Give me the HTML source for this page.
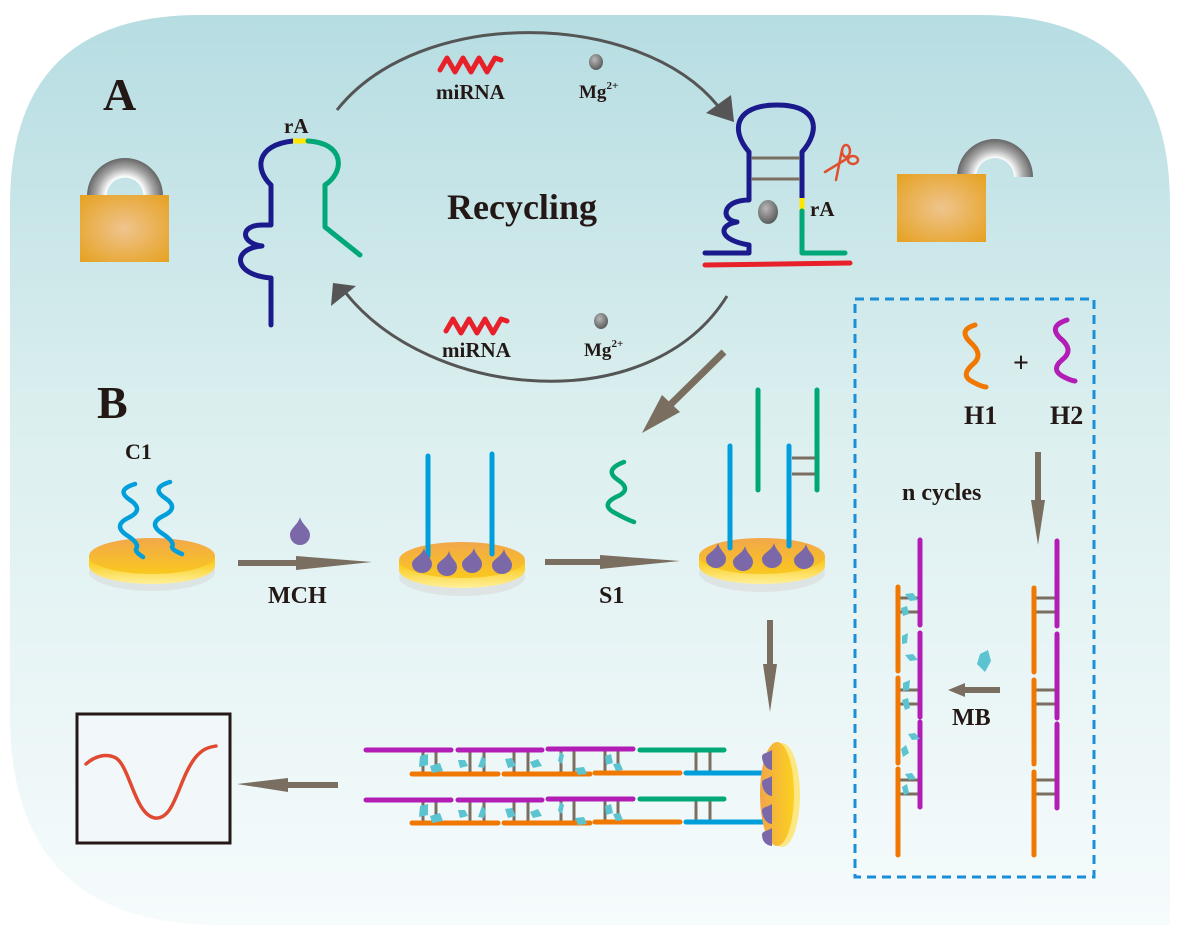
<!DOCTYPE html>
<html><head><meta charset="utf-8"><style>
html,body{margin:0;padding:0;background:#fff}
svg{display:block}
text{font-family:"Liberation Serif",serif;font-weight:bold;fill:#231815}
</style></head><body>
<svg width="1180" height="932" viewBox="0 0 1180 932" xmlns="http://www.w3.org/2000/svg">
<defs>
<linearGradient id="bg" x1="0" y1="0" x2="0" y2="1">
<stop offset="0" stop-color="#b6dde2"/><stop offset="0.45" stop-color="#dcefef"/><stop offset="1" stop-color="#f6fbfc"/>
</linearGradient>
<radialGradient id="lockb" cx="0.5" cy="0.5" r="0.7"><stop offset="0" stop-color="#efc48e"/><stop offset="1" stop-color="#e6a11f"/></radialGradient>
<radialGradient id="shk" gradientUnits="userSpaceOnUse" cx="0" cy="0" r="38"><stop offset="0.5" stop-color="#ffffff"/><stop offset="0.75" stop-color="#a8a8a8"/><stop offset="1" stop-color="#666"/></radialGradient>
<radialGradient id="ball" cx="0.4" cy="0.35" r="0.7"><stop offset="0" stop-color="#b8b8b8"/><stop offset="1" stop-color="#555"/></radialGradient>
<linearGradient id="discTop" x1="0" y1="0" x2="0" y2="1"><stop offset="0" stop-color="#f2a74a"/><stop offset="1" stop-color="#f9c81f"/></linearGradient>
<linearGradient id="discSide" x1="0" y1="0" x2="0" y2="1"><stop offset="0" stop-color="#f9c300"/><stop offset="1" stop-color="#fff09a"/></linearGradient>
<linearGradient id="discV" x1="0" y1="0" x2="1" y2="0"><stop offset="0" stop-color="#f2a64a"/><stop offset="1" stop-color="#fbd11f"/></linearGradient>
</defs>
<path d="M200,15 H980 Q1170,15 1170,205 V925 H220 Q10,925 10,715 V205 Q10,15 200,15 Z" fill="url(#bg)"/>

<text x="103" y="110" font-size="46">A</text>
<text x="97" y="418" font-size="46">B</text>

<!-- closed lock -->
<g transform="translate(125,196)">
<path d="M-38,0 A38,38 0 0 1 38,0 L18.5,0 A18.5,18.5 0 0 0 -18.5,0 Z" fill="url(#shk)"/>
</g>
<rect x="80" y="195" width="89" height="67" fill="url(#lockb)"/>

<!-- left hairpin -->
<path d="M271,325 V278 C232,275 232,248 262,246 C240,243 240,225 262,225 H271 V185 C255,170 255,145 293,141" fill="none" stroke="#1a1a8c" stroke-width="5" stroke-linecap="round" stroke-linejoin="round"/>
<path d="M293,141 H308" stroke="#ffe600" stroke-width="5"/>
<path d="M308,141 C345,143 345,172 325,185 V227 L360,255" fill="none" stroke="#00a877" stroke-width="5" stroke-linecap="round" stroke-linejoin="round"/>
<text x="284" y="133" font-size="21">rA</text>

<!-- arcs -->
<path d="M337,110 C420,5 640,10 718,106" fill="none" stroke="#555" stroke-width="3"/>
<polygon points="706,113 731,95 734,122" fill="#555"/>
<path d="M727,296 C650,420 430,400 345,292" fill="none" stroke="#555" stroke-width="3"/>
<polygon points="333,283 331,306 356,286" fill="#555"/>

<path d="M440,70 L447,58 L455,72 L463,58 L471,72 L479,58 L487,72 L495,58 L501,60" fill="none" stroke="#e8202a" stroke-width="5" stroke-linecap="round" stroke-linejoin="round"/>
<text x="436" y="99" font-size="21">miRNA</text>
<ellipse cx="596" cy="62" rx="7" ry="8" fill="url(#ball)"/>
<text x="579" y="98" font-size="19">Mg<tspan font-size="11" dy="-9">2+</tspan></text>

<path d="M446,331 L453,319 L461,333 L469,319 L477,333 L485,319 L493,333 L501,319 L507,321" fill="none" stroke="#e8202a" stroke-width="5" stroke-linecap="round" stroke-linejoin="round"/>
<text x="442" y="357" font-size="21">miRNA</text>
<ellipse cx="601" cy="321" rx="7" ry="8" fill="url(#ball)"/>
<text x="584" y="356" font-size="19">Mg<tspan font-size="11" dy="-9">2+</tspan></text>

<text x="447" y="219" font-size="36">Recycling</text>

<!-- right hairpin -->
<path d="M705,253 H749 V245 C718,240 718,225 737,222 C720,220 722,200 749,200 V152 C730,130 735,105 777,105 C820,105 820,132 802,152 V198" fill="none" stroke="#1a1a8c" stroke-width="5" stroke-linecap="round" stroke-linejoin="round"/>
<path d="M751,158 H800 M751,179 H800" stroke="#7a6e60" stroke-width="3"/>
<path d="M802,198 V211" stroke="#ffe600" stroke-width="5"/>
<path d="M802,211 V253 H845" fill="none" stroke="#00a877" stroke-width="5" stroke-linecap="round" stroke-linejoin="round"/>
<path d="M705,265 L850,263" stroke="#e8202a" stroke-width="5" stroke-linecap="round"/>
<ellipse cx="768" cy="212" rx="10" ry="12" fill="url(#ball)"/>
<text x="810" y="216" font-size="21">rA</text>
<g stroke="#e05030" stroke-width="2.5" fill="none" stroke-linecap="round">
<path d="M825,172 L848,158"/><path d="M836,180 L842,150"/>
<ellipse cx="846" cy="151" rx="4" ry="6"/><ellipse cx="853" cy="160" rx="5" ry="4"/>
</g>

<!-- open lock -->
<g transform="translate(995,177)">
<path d="M-38,0 A38,38 0 0 1 38,0 L19,0 A19,19 0 0 0 -19,0 Z" fill="url(#shk)"/>
</g>
<rect x="897" y="174" width="89" height="68" fill="url(#lockb)"/>

<!-- dashed box -->
<rect x="855" y="299" width="239" height="578" fill="none" stroke="#1a8fd8" stroke-width="3" stroke-dasharray="9,6"/>
<path d="M975,325 Q958,330 970,342 Q985,355 972,365 Q960,376 973,382 Q982,387 986,387" fill="none" stroke="#f07800" stroke-width="5" stroke-linecap="round"/>
<text x="964" y="424" font-size="26">H1</text>
<text x="1013" y="372" font-size="28">+</text>
<path d="M1067,320 Q1048,326 1060,338 Q1075,350 1062,360 Q1050,370 1064,377 Q1072,381 1075,381" fill="none" stroke="#b21db5" stroke-width="5" stroke-linecap="round"/>
<text x="1050" y="424" font-size="26">H2</text>
<path d="M1038,452 V505" stroke="#7a6e60" stroke-width="6"/>
<polygon points="1031,500 1045,500 1038,545" fill="#7a6e60"/>
<text x="902" y="500" font-size="24">n cycles</text>

<!-- ladders -->
<g stroke-linecap="round">
<g stroke="#7a6e60" stroke-width="3">
<path d="M1036,598 H1055 M1036,612 H1055 M1036,690 H1055 M1036,704 H1055 M1036,780 H1055 M1036,794 H1055"/>
<path d="M900,598 H920 M900,612 H920 M900,690 H920 M900,704 H920 M900,780 H920 M900,794 H920"/>
</g>
<g stroke="#f07800" stroke-width="5">
<path d="M1034,588 V672 M1034,680 V764 M1034,772 V855"/>
<path d="M898,587 V671 M898,678 V763 M898,769 V855"/>
</g>
<g stroke="#b21db5" stroke-width="5">
<path d="M1057,541 V626 M1057,634 V718 M1057,724 V808"/>
<path d="M920,540 V625 M920,633 V717 M920,722 V807"/>
</g>
</g>
<g fill="#5cc3d0">
<polygon points="905,594 913,593 918,600 910,601"/><polygon points="901,608 907,606 909,614 903,616"/>
<polygon points="902,636 908,633 907,643 902,644"/><polygon points="905,655 913,654 918,660 910,661"/>
<polygon points="903,683 910,680 909,690 903,691"/><polygon points="902,700 908,698 910,708 905,710"/>
<polygon points="908,734 915,733 920,739 912,740"/><polygon points="901,749 906,745 909,753 903,757"/>
<polygon points="905,774 912,773 916,779 909,780"/><polygon points="902,787 907,784 909,793 904,795"/>
<polygon points="980,654 988,650 991,661 985,672 977,664"/>
</g>
<path d="M1000,690 H962" stroke="#7a6e60" stroke-width="6"/>
<polygon points="965,683 965,697 948,690" fill="#7a6e60"/>
<text x="952" y="725" font-size="24">MB</text>

<!-- disc 1 -->
<g>
<ellipse cx="152" cy="572" rx="63" ry="19" fill="#d8dadb" opacity="0.6"/>
<path d="M89,556 V566 A63,18 0 0 0 215,566 V556 Z" fill="url(#discSide)"/>
<ellipse cx="152" cy="556" rx="63" ry="18" fill="url(#discTop)"/>
</g>
<g fill="none" stroke="#009fdb" stroke-width="4.5" stroke-linecap="round">
<path d="M135,484 Q115,490 130,500 Q145,510 128,518 Q112,526 128,536 Q140,544 136,549 Q135,552 143,557"/>
<path d="M170,482 Q150,488 165,498 Q180,508 163,516 Q147,524 163,534 Q175,542 172,547 Q172,550 182,554"/>
</g>
<text x="125" y="459" font-size="22">C1</text>
<path d="M238,563 H300" stroke="#7a6e60" stroke-width="6"/>
<polygon points="296,556 372,562 296,570" fill="#7a6e60"/>
<path d="M300,517 C298,525 290,528 290,535 A10,10 0 0 0 310,535 C310,528 302,525 300,517 Z" fill="#7b68a8"/>
<text x="268" y="603" font-size="24">MCH</text>

<!-- disc 2 -->
<g>
<ellipse cx="462" cy="577" rx="63" ry="19" fill="#d8dadb" opacity="0.6"/>
<path d="M399,560 V570 A63,18 0 0 0 525,570 V560 Z" fill="url(#discSide)"/>
<ellipse cx="462" cy="560" rx="63" ry="18" fill="url(#discTop)"/>
</g>
<path d="M428,456 V556 M492,454 V554" stroke="#009fdb" stroke-width="5" stroke-linecap="round"/>
<g fill="#7b68a8">
<path d="M424,548 C422,556 412,558 412,564 A10,9 0 0 0 432,564 C432,558 426,556 424,548Z"/>
<path d="M449,551 C447,559 437,561 437,567 A10,9 0 0 0 457,567 C457,561 451,559 449,551Z"/>
<path d="M474,548 C472,556 462,558 462,564 A10,9 0 0 0 482,564 C482,558 476,556 474,548Z"/>
<path d="M504,549 C502,557 492,559 492,565 A10,9 0 0 0 512,565 C512,559 506,557 504,549Z"/>
</g>
<path d="M545,562 H605" stroke="#7a6e60" stroke-width="6"/>
<polygon points="600,555 680,561 600,569" fill="#7a6e60"/>
<text x="599" y="603" font-size="24">S1</text>
<path d="M624,462 Q603,470 618,480 Q633,490 616,497 Q600,505 615,513 Q628,520 634,522" fill="none" stroke="#00a877" stroke-width="4.5" stroke-linecap="round"/>

<!-- disc 3 -->
<g>
<ellipse cx="762" cy="573" rx="63" ry="19" fill="#d8dadb" opacity="0.6"/>
<path d="M699,556 V566 A63,18 0 0 0 825,566 V556 Z" fill="url(#discSide)"/>
<ellipse cx="762" cy="556" rx="63" ry="18" fill="url(#discTop)"/>
</g>
<path d="M730,446 V548 M789,446 V546" stroke="#009fdb" stroke-width="5" stroke-linecap="round"/>
<path d="M758,390 V490 M817,390 V490" stroke="#00a877" stroke-width="5" stroke-linecap="round"/>
<path d="M792,458 H815 M792,474 H815" stroke="#7a6e60" stroke-width="3"/>
<g fill="#7b68a8">
<path d="M718,543 C716,551 706,553 706,559 A10,9 0 0 0 726,559 C726,553 720,551 718,543Z"/>
<path d="M745,546 C743,554 733,556 733,562 A10,9 0 0 0 753,562 C753,556 747,554 745,546Z"/>
<path d="M774,543 C772,551 762,553 762,559 A10,9 0 0 0 782,559 C782,553 776,551 774,543Z"/>
<path d="M806,544 C804,552 794,554 794,560 A10,9 0 0 0 814,560 C814,554 808,552 806,544Z"/>
</g>
<path d="M724,352 L670,405" stroke="#7a6e60" stroke-width="7"/>
<polygon points="662,395 680,412 642,433" fill="#7a6e60"/>
<path d="M770,620 V668" stroke="#7a6e60" stroke-width="6"/>
<polygon points="763,664 777,664 770,712" fill="#7a6e60"/>

<!-- bottom assembly -->
<g stroke-linecap="round">
<g stroke="#7a6e60" stroke-width="3">
<path d="M423,752 V772 M436,752 V772 M470,752 V772 M484,752 V772 M514,752 V772 M528,752 V772 M561,752 V772 M574,752 V772 M605,752 V772 M618,752 V772 M696,752 V772 M710,752 V772"/>
<path d="M423,802 V822 M436,802 V822 M470,802 V822 M484,802 V822 M514,802 V822 M528,802 V822 M561,802 V822 M574,802 V822 M605,802 V822 M618,802 V822 M696,802 V822 M710,802 V822"/>
</g>
<g stroke-width="5">
<path d="M366,750 H451 M458,750 H542 M548,749 H633" stroke="#b21db5"/>
<path d="M640,750 H724" stroke="#00a877"/>
<path d="M412,774 H498 M504,774 H590 M595,773 H680" stroke="#f07800"/>
<path d="M686,773 H771" stroke="#009fdb"/>
<path d="M366,800 H451 M458,800 H542 M548,799 H633" stroke="#b21db5"/>
<path d="M640,799 H724" stroke="#00a877"/>
<path d="M412,823 H498 M504,823 H590 M595,822 H680" stroke="#f07800"/>
<path d="M686,822 H771" stroke="#009fdb"/>
</g>
</g>
<g fill="#5cc3d0">
<polygon points="420,756 428,754 428,765 419,767"/><polygon points="430,766 440,763 443,771 432,773"/>
<polygon points="458,760 465,760 468,766 460,768"/><polygon points="482,756 486,760 484,768 478,767"/>
<polygon points="505,759 512,758 516,766 508,768"/><polygon points="530,762 538,759 542,766 533,768"/>
<polygon points="560,752 564,755 562,764 558,761"/><polygon points="575,768 584,767 587,774 578,775"/>
<polygon points="605,756 611,754 613,763 606,765"/><polygon points="613,764 620,763 623,770 616,771"/>
<polygon points="420,806 428,804 428,815 419,817"/><polygon points="430,816 440,813 443,821 432,823"/>
<polygon points="458,810 465,810 468,816 460,818"/><polygon points="482,806 486,810 484,818 478,817"/>
<polygon points="505,809 512,808 516,816 508,818"/><polygon points="530,812 538,809 542,816 533,818"/>
<polygon points="560,802 564,805 562,814 558,811"/><polygon points="575,818 584,817 587,824 578,825"/>
<polygon points="605,806 611,804 613,813 606,815"/><polygon points="613,814 620,813 623,820 616,821"/>
</g>
<ellipse cx="782" cy="795" rx="18" ry="52" fill="#fde783"/>
<ellipse cx="777" cy="794" rx="17" ry="52" fill="url(#discV)"/>
<g fill="#7b68a8">
<path d="M772,750 C764,755 760,752 763,762 C766,770 772,770 772,770Z"/>
<path d="M772,776 C764,781 760,778 763,788 C766,796 772,796 772,796Z"/>
<path d="M772,804 C764,809 760,806 763,816 C766,824 772,824 772,824Z"/>
<path d="M772,828 C764,833 760,830 763,840 C766,846 772,846 772,846Z"/>
</g>

<path d="M338,785 H285" stroke="#7a6e60" stroke-width="6"/>
<polygon points="288,778 288,792 237,784" fill="#7a6e60"/>

<rect x="77" y="714" width="153" height="129" fill="#f2f8fa" stroke="#231815" stroke-width="3"/>
<path d="M86,764 C95,756 106,753 116,758 C130,767 135,815 155,818 C175,820 178,780 195,758 C203,748 210,747 216,746" fill="none" stroke="#e04a30" stroke-width="3.5" stroke-linecap="round"/>
</svg>
</body></html>
